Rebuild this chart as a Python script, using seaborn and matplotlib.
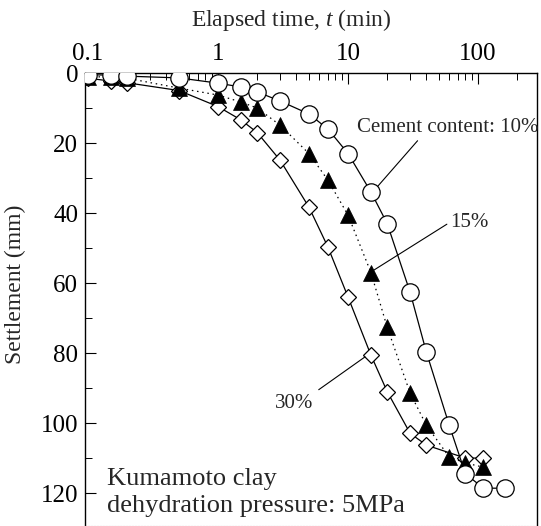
import matplotlib
matplotlib.use("Agg")
import matplotlib.pyplot as plt
import matplotlib.ticker as mticker
import seaborn as sns
import pandas as pd

# ---- data ----
t10 = [0.1, 0.15, 0.2, 0.5, 1, 1.5, 2, 3, 5, 7, 10, 15, 20, 30, 40, 60, 80, 110, 160]
s10 = [0.5, 0.6, 0.9, 1.4, 2.9, 4.0, 5.4, 8.0, 11.7, 16, 23, 34, 43, 62.6, 79.7, 100.6, 114.5, 118.6, 118.6]

t15 = [0.1, 0.15, 0.2, 0.5, 1, 1.5, 2, 3, 5, 7, 10, 15, 20, 30, 40, 60, 80, 110]
s15 = [1.0, 1.2, 1.5, 4.3, 6.3, 8.3, 10, 14.9, 23, 30.6, 40.6, 57, 72.6, 91.4, 100.6, 109.7, 111.4, 112.6]

t30 = [0.1, 0.15, 0.2, 0.5, 1, 1.5, 2, 3, 5, 7, 10, 15, 20, 30, 40, 80, 110]
s30 = [1.5, 2.3, 2.8, 5.0, 9.6, 13.4, 17, 24.9, 38.3, 49.7, 64, 80.6, 91, 102.9, 106.3, 110, 110]

xticks = [0.1, 1, 10, 100]
xticklabels = ["0.1", "1", "10", "100"]
yticks = [0, 20, 40, 60, 80, 100, 120]

sns.set_theme(style="ticks")
plt.rcParams["font.family"] = ["Liberation Serif", "DejaVu Serif"]
plt.rcParams["mathtext.fontset"] = "custom"
plt.rcParams["mathtext.rm"] = "Liberation Serif"
plt.rcParams["mathtext.it"] = "Liberation Serif:italic"

fig = plt.figure(figsize=(5.41, 5.26), dpi=100)
ax = fig.add_axes([85 / 541, 0.0, 452 / 541, 453 / 526])

df30 = pd.DataFrame({"t": t30, "s": s30})
df15 = pd.DataFrame({"t": t15, "s": s15})
df10 = pd.DataFrame({"t": t10, "s": s10})

sns.lineplot(data=df30, x="t", y="s", ax=ax, color="black", lw=0.9,
             marker="D", markersize=8.5, markerfacecolor="white",
             markeredgecolor="black", markeredgewidth=0.9, zorder=2)
sns.lineplot(data=df15, x="t", y="s", ax=ax, color="black", lw=0.9,
             linestyle=(0, (1.2, 3)),
             marker="^", markersize=12, markerfacecolor="black",
             markeredgecolor="black", markeredgewidth=0.5, zorder=3)
sns.lineplot(data=df10, x="t", y="s", ax=ax, color="black", lw=0.9,
             marker="o", markersize=12.5, markerfacecolor="white",
             markeredgecolor="black", markeredgewidth=0.9, zorder=4)

ax.set_xscale("log")
ax.set_xlim(0.0948, 284)
ax.set_ylim(129.4, 0)

ax.xaxis.tick_top()
ax.set_xticks(xticks)
ax.set_xticklabels(xticklabels)
ax.xaxis.set_minor_locator(mticker.LogLocator(base=10, subs=range(2, 10), numticks=20))
ax.xaxis.set_minor_formatter(mticker.NullFormatter())
ax.set_yticks(yticks)
ax.yaxis.set_minor_locator(mticker.MultipleLocator(10))

ax.tick_params(axis="both", which="major", direction="in", length=8, width=0.8,
               labelsize=18, color="black", labelcolor="black")
ax.tick_params(axis="both", which="minor", direction="in", length=5, width=0.7,
               color="black")
ax.tick_params(axis="x", which="both", top=True, bottom=False, pad=6)
ax.tick_params(axis="y", which="both", left=True, right=False, pad=5)

for side in ["left", "top", "right"]:
    ax.spines[side].set_visible(True)
    ax.spines[side].set_color("black")
    ax.spines[side].set_linewidth(1.0)
ax.spines["bottom"].set_linestyle(":")
ax.spines["bottom"].set_color("#999999")
ax.spines["bottom"].set_linewidth(0.8)

ax.set_xlabel("Elapsed time, $t$ (min)", fontsize=17)
ax.xaxis.set_label_position("top")
ax.xaxis.set_label_coords(0.457, 1.104)
ax.set_ylabel("Settlement (mm)", fontsize=17)
ax.yaxis.set_label_coords(-0.13, 0.533)

ax.grid(False)

# annotations
ax.annotate("Cement content: 10%", xy=(16.7, 32.6), xytext=(11.7, 15.7),
            fontsize=15, va="center", ha="left",
            arrowprops=dict(arrowstyle="-", color="black", lw=0.8,
                            shrinkA=0, shrinkB=0, relpos=(0.35, 0)))
ax.annotate("15%", xy=(15.8, 56.3), xytext=(61, 42.6),
            fontsize=15, va="center", ha="left",
            arrowprops=dict(arrowstyle="-", color="black", lw=0.8,
                            shrinkA=0, shrinkB=0, relpos=(0, 0.5)))
ax.annotate("30%", xy=(13.5, 81.1), xytext=(3.84, 94.3),
            fontsize=15, va="center", ha="center",
            arrowprops=dict(arrowstyle="-", color="black", lw=0.8,
                            shrinkA=2, shrinkB=0, relpos=(1, 1)))

ax.text(0.0487, 0.0905, "Kumamoto clay", transform=ax.transAxes,
        fontsize=19, va="baseline", ha="left")
ax.text(0.0487, 0.0309, "dehydration pressure: 5MPa", transform=ax.transAxes,
        fontsize=19, va="baseline", ha="left")

fig.savefig("out.png", dpi=100)
